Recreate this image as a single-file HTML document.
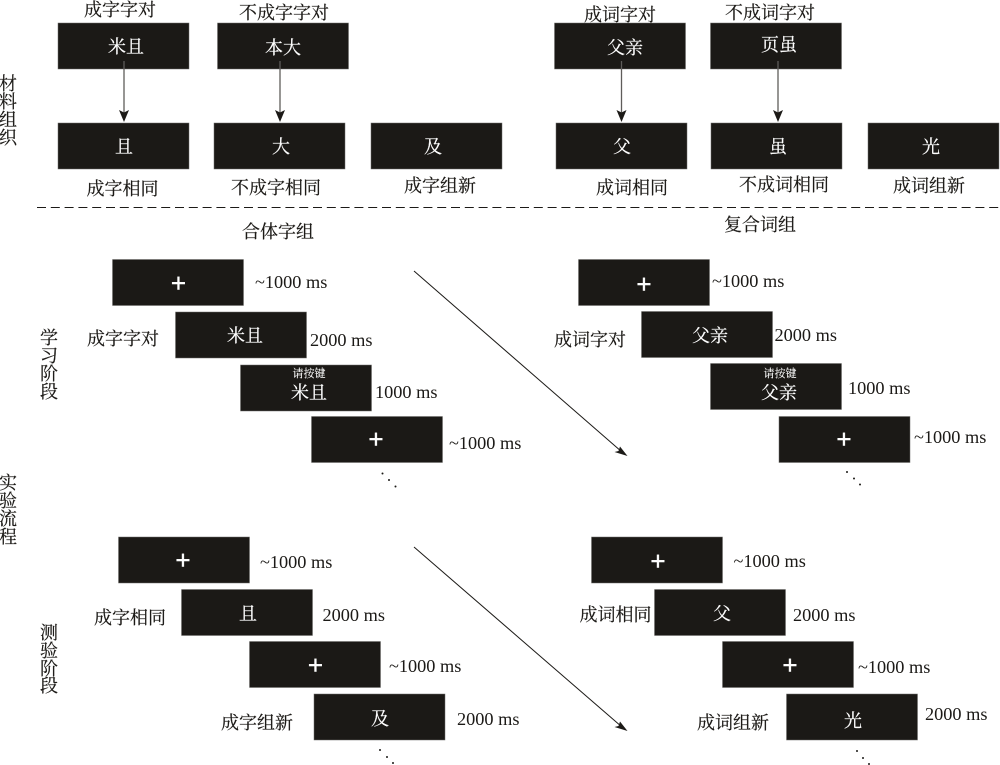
<!DOCTYPE html>
<html lang="zh">
<head>
<meta charset="utf-8">
<title>实验流程</title>
<style>
html,body{margin:0;padding:0;background:#fff;width:1000px;height:765px;overflow:hidden}
svg{display:block}
text{font-family:"Liberation Serif","Noto Serif CJK SC",serif;font-size:18px;fill:#1c1a17}
.c{text-anchor:middle;stroke:#1c1a17;stroke-width:.2}
.w{fill:#fff;text-anchor:middle;stroke:#fff;stroke-width:.2}
.p{font-family:"Liberation Sans",sans-serif;font-size:26px;fill:#fff;stroke:#fff;stroke-width:.4;text-anchor:middle}
.s{font-size:11px;fill:#fff;text-anchor:middle;stroke:#fff;stroke-width:.1}
.t{font-size:18.3px}
.b rect{fill:#1b1916;stroke:#6f6e6b;stroke-width:.5;width:131px;height:46px}
.d circle{fill:#1c1a17;r:1px}
</style>
</head>
<body>
<svg width="1000" height="765" viewBox="0 0 1000 765" xmlns="http://www.w3.org/2000/svg">
<g class="b">
<rect x="58" y="23"/><rect x="217.500" y="23"/><rect x="554.500" y="23"/><rect x="710.500" y="23"/>
<rect x="58" y="123"/><rect x="214" y="123"/><rect x="371" y="123"/><rect x="556" y="123"/><rect x="711" y="123"/><rect x="868" y="123"/>
<rect x="112.500" y="259.500"/><rect x="175.500" y="312"/><rect x="240.500" y="365"/><rect x="311.500" y="416.500"/>
<rect x="578.500" y="259.500"/><rect x="641.500" y="311.500"/><rect x="710.500" y="363.500"/><rect x="779" y="416.500"/>
<rect x="118.500" y="537"/><rect x="181.500" y="589.500"/><rect x="249.500" y="641.500"/><rect x="314" y="694"/>
<rect x="591.500" y="537"/><rect x="654.500" y="589.500"/><rect x="722.500" y="641.500"/><rect x="786.500" y="694"/>
</g>

<!-- vertical arrows -->
<g stroke="#5f5d5a" stroke-width="1.300" fill="none">
<line x1="124" y1="61" x2="124" y2="114"/>
<line x1="280" y1="61" x2="280" y2="114"/>
<line x1="621.500" y1="61" x2="621.500" y2="114"/>
<line x1="778" y1="61" x2="778" y2="114"/>
</g>
<g fill="#1c1a17">
<path d="M124 122l-5-12 5 2.500 5-2.500z"/>
<path d="M280 122l-5-12 5 2.500 5-2.500z"/>
<path d="M621.500 122l-5-12 5 2.500 5-2.500z"/>
<path d="M778 122l-5-12 5 2.500 5-2.500z"/>
</g>

<!-- dashed separator -->
<line x1="37" y1="207.500" x2="1000" y2="207.500" stroke="#1c1a17" stroke-width="1" stroke-dasharray="9 4.800"/>

<!-- diagonal arrows -->
<g stroke="#1c1a17" stroke-width="1" fill="none">
<line x1="414" y1="271" x2="622" y2="452"/>
<line x1="414" y1="547" x2="622" y2="727"/>
</g>
<g fill="#1c1a17">
<path d="M627.500 456l-13-4 4-1 1.500-4.500z"/>
<path d="M627.500 731l-13-4 4-1 1.500-4.500z"/>
</g>

<!-- material labels -->
<g class="c">
<text x="120" y="16">成字字对</text>
<text x="284" y="19">不成字字对</text>
<text x="620" y="21">成词字对</text>
<text x="770" y="19">不成词字对</text>
<text x="122.500" y="195">成字相同</text>
<text x="276" y="194">不成字相同</text>
<text x="440" y="192">成字组新</text>
<text x="632" y="194">成词相同</text>
<text x="784" y="191">不成词相同</text>
<text x="929" y="192">成词组新</text>
<text x="278" y="238">合体字组</text>
<text x="760" y="231">复合词组</text>
<text x="8" y="90">材</text><text x="8" y="108">料</text><text x="8" y="126">组</text><text x="8" y="144">织</text>
<text x="49" y="344">学</text><text x="49" y="362">习</text><text x="49" y="380">阶</text><text x="49" y="398">段</text>
<text x="8" y="489">实</text><text x="8" y="507">验</text><text x="8" y="525">流</text><text x="8" y="543">程</text>
<text x="49" y="639">测</text><text x="49" y="657">验</text><text x="49" y="675">阶</text><text x="49" y="692">段</text>
<text x="123" y="345">成字字对</text>
<text x="590" y="346">成词字对</text>
<text x="130" y="624">成字相同</text>
<text x="257" y="729">成字组新</text>
<text x="615.500" y="621">成词相同</text>
<text x="733" y="729">成词组新</text>
</g>

<!-- stimuli -->
<text class="w" x="126" y="53">米且</text>
<text class="w" x="283" y="54">本大</text>
<text class="w" x="625" y="54">父亲</text>
<text class="w" x="779" y="51">页虽</text>
<text class="w" x="124" y="153">且</text>
<text class="w" x="281" y="153">大</text>
<text class="w" x="433" y="153">及</text>
<text class="w" x="622" y="153">父</text>
<text class="w" x="778" y="153">虽</text>
<text class="w" x="931" y="153">光</text>
<text class="w" x="245" y="342">米且</text>
<text class="s" x="309" y="377">请按键</text>
<text class="w" x="309" y="399">米且</text>
<text class="w" x="710" y="342">父亲</text>
<text class="s" x="780" y="377">请按键</text>
<text class="w" x="779" y="399">父亲</text>
<text class="w" x="248" y="620">且</text>
<text class="w" x="380" y="725">及</text>
<text class="w" x="722" y="620">父</text>
<text class="w" x="853" y="727">光</text>

<!-- fixation crosses -->
<text class="p" x="178.500" y="292">+</text>
<text class="p" x="644" y="293">+</text>
<text class="p" x="376" y="448">+</text>
<text class="p" x="844" y="448">+</text>
<text class="p" x="183" y="569">+</text>
<text class="p" x="658" y="570">+</text>
<text class="p" x="315.500" y="674">+</text>
<text class="p" x="790" y="674">+</text>

<!-- durations -->
<g class="t">
<text class="t" x="255" y="288">~1000 ms</text>
<text class="t" x="310" y="346">2000 ms</text>
<text class="t" x="375" y="398">1000 ms</text>
<text class="t" x="449" y="449">~1000 ms</text>
<text class="t" x="712" y="287">~1000 ms</text>
<text class="t" x="774.500" y="341">2000 ms</text>
<text class="t" x="848" y="394">1000 ms</text>
<text class="t" x="914" y="443">~1000 ms</text>
<text class="t" x="260" y="568">~1000 ms</text>
<text class="t" x="322.500" y="621">2000 ms</text>
<text class="t" x="389" y="672">~1000 ms</text>
<text class="t" x="457" y="725">2000 ms</text>
<text class="t" x="733.500" y="567">~1000 ms</text>
<text class="t" x="793" y="621">2000 ms</text>
<text class="t" x="858" y="673">~1000 ms</text>
<text class="t" x="925" y="720">2000 ms</text>
</g>

<!-- ellipsis dots -->
<g class="d">
<circle cx="382.500" cy="473.500"/><circle cx="389" cy="480"/><circle cx="395.500" cy="486.500"/>
<circle cx="847" cy="472"/><circle cx="854" cy="478.500"/><circle cx="860" cy="484.500"/>
<circle cx="380" cy="750"/><circle cx="387" cy="757"/><circle cx="393" cy="763"/>
<circle cx="857" cy="751"/><circle cx="863" cy="758"/><circle cx="869" cy="764"/>
</g>
</svg>
</body>
</html>
